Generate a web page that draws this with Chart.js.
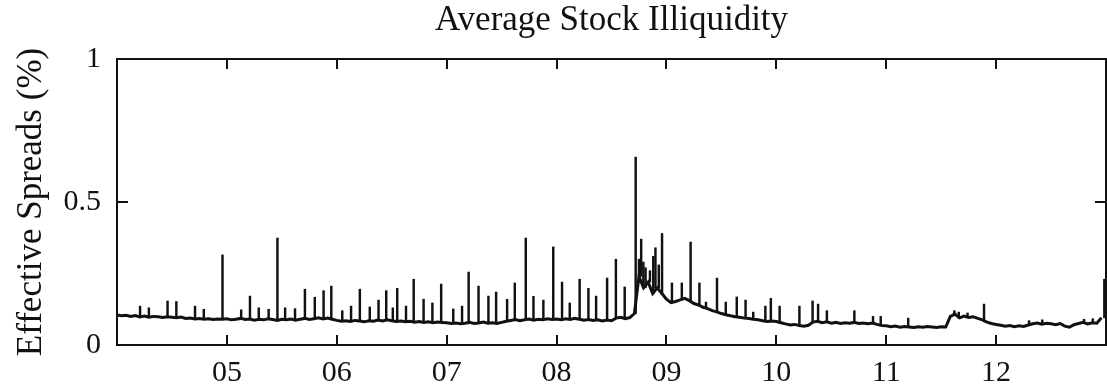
<!DOCTYPE html>
<html>
<head>
<meta charset="utf-8">
<title>Average Stock Illiquidity</title>
<script src="https://cdn.jsdelivr.net/npm/chart.js@4.4.1/dist/chart.umd.min.js"></script>
<style>
html,body{margin:0;padding:0;background:#fff;}
#wrap{width:1107px;height:390px;}
</style>
</head>
<body>
<div id="wrap"><canvas id="spreadChart" width="1107" height="390"></canvas></div>
<script>
// half-monthly level of the average effective spread (%), Jan 2004 .. Dec 2012
const firstYear = 2004;
const stepsPerYear = 24;
const baseline = [
  // 2004
  0.105,0.102,0.104,0.100,0.103,0.098,0.101,0.097,0.100,0.099,0.096,0.099,0.097,0.095,0.098,0.093,0.094,0.091,0.093,0.090,0.092,0.089,0.091,0.090,
  // 2005
  0.092,0.088,0.090,0.093,0.089,0.091,0.087,0.090,0.088,0.092,0.089,0.086,0.090,0.088,0.091,0.087,0.090,0.093,0.089,0.092,0.095,0.091,0.094,0.090,
  // 2006
  0.086,0.083,0.085,0.082,0.086,0.084,0.081,0.085,0.083,0.087,0.084,0.088,0.085,0.082,0.084,0.081,0.083,0.080,0.082,0.079,0.081,0.078,0.080,0.079,
  // 2007
  0.078,0.075,0.077,0.074,0.076,0.079,0.075,0.077,0.080,0.076,0.078,0.075,0.079,0.083,0.086,0.089,0.085,0.088,0.091,0.087,0.090,0.088,0.092,0.089,
  // 2008
  0.091,0.088,0.092,0.089,0.093,0.090,0.087,0.089,0.086,0.088,0.084,0.087,0.085,0.094,0.097,0.092,0.096,0.110,0.240,0.200,0.220,0.180,0.200,0.180,
  // 2009
  0.160,0.148,0.152,0.158,0.163,0.155,0.145,0.140,0.132,0.127,0.120,0.116,0.110,0.106,0.102,0.099,0.097,0.094,0.093,0.090,0.088,0.085,0.082,0.084,
  // 2010
  0.082,0.078,0.074,0.070,0.072,0.068,0.066,0.069,0.080,0.083,0.078,0.081,0.076,0.079,0.075,0.078,0.076,0.079,0.075,0.077,0.074,0.077,0.072,0.068,
  // 2011
  0.067,0.064,0.066,0.062,0.065,0.063,0.061,0.064,0.062,0.065,0.063,0.061,0.064,0.063,0.100,0.108,0.095,0.101,0.096,0.099,0.093,0.088,0.080,0.075,
  // 2012
  0.072,0.069,0.066,0.068,0.064,0.067,0.065,0.070,0.074,0.077,0.073,0.076,0.074,0.071,0.075,0.066,0.062,0.071,0.075,0.079,0.074,0.078,0.076,0.095
];

// single-day jumps in the spread
const spikeDates = [
  2004.21,2004.29,2004.46,2004.54,2004.71,2004.79,2004.96,
  2005.13,2005.21,2005.29,2005.38,2005.46,2005.53,2005.62,2005.71,2005.80,2005.88,2005.95,
  2006.05,2006.13,2006.21,2006.30,2006.38,2006.45,2006.51,2006.55,2006.63,2006.70,2006.79,2006.87,2006.95,
  2007.06,2007.14,2007.20,2007.29,2007.38,2007.45,2007.55,2007.62,2007.72,2007.79,2007.88,2007.97,
  2008.05,2008.12,2008.21,2008.29,2008.36,2008.46,2008.54,2008.62,2008.72,
  2008.75,2008.77,2008.79,2008.81,2008.85,2008.88,2008.90,2008.93,2008.96,
  2009.05,2009.14,2009.22,2009.30,2009.36,2009.46,2009.54,2009.64,2009.72,2009.79,2009.90,2009.95,
  2010.03,2010.21,2010.33,2010.38,2010.46,2010.71,2010.88,2010.95,
  2011.20,2011.62,2011.66,2011.74,2011.89,
  2012.30,2012.42,2012.80,2012.88,2012.985
];
const spikeValues = [
  0.136,0.130,0.154,0.152,0.136,0.125,0.315,
  0.123,0.171,0.130,0.125,0.374,0.130,0.127,0.195,0.167,0.190,0.206,
  0.120,0.136,0.195,0.133,0.157,0.190,0.130,0.198,0.136,0.230,0.160,0.147,0.213,
  0.126,0.136,0.255,0.206,0.171,0.185,0.160,0.217,0.374,0.170,0.157,0.343,
  0.220,0.147,0.230,0.198,0.171,0.234,0.300,0.203,0.657,
  0.300,0.370,0.290,0.270,0.260,0.310,0.340,0.280,0.390,
  0.217,0.217,0.360,0.217,0.150,0.234,0.150,0.168,0.157,0.115,0.136,0.163,
  0.136,0.136,0.154,0.143,0.120,0.120,0.100,0.100,
  0.094,0.120,0.115,0.112,0.143,
  0.085,0.088,0.090,0.092,0.230
];

const yearTicks = [2005,2006,2007,2008,2009,2010,2011,2012];
const yearLabels = ['05','06','07','08','09','10','11','12'];
const valueTicks = [0,0.5,1];

const levelPoints = baseline.map((v,i)=>({x:firstYear + i/stepsPerYear, y:v}));
// each jump rises from the surrounding level up to its peak
function levelAt(t){
  const i = Math.min(baseline.length-1, Math.round((t-firstYear)*stepsPerYear));
  return baseline[i];
}
const spikeBars = spikeDates.map((d,i)=>({x:d, y:[levelAt(d), spikeValues[i]]}));

const serif = "'Liberation Serif','Times New Roman',serif";
const ink = '#111';

// box round the plot with inward tick marks on all four sides
const framePlugin = {
  id:'frame',
  afterDatasetsDraw(chart){
    const {ctx, chartArea:a, scales:{x,y}} = chart;
    ctx.save();
    ctx.strokeStyle = ink; ctx.lineWidth = 2;
    ctx.strokeRect(a.left, a.top, a.right-a.left, a.bottom-a.top);
    ctx.beginPath();
    yearTicks.forEach(t=>{
      const px = Math.round(x.getPixelForValue(t));
      ctx.moveTo(px,a.bottom); ctx.lineTo(px,a.bottom-10);
      ctx.moveTo(px,a.top); ctx.lineTo(px,a.top+10);
    });
    const py = Math.round(y.getPixelForValue(0.5));
    ctx.moveTo(a.left,py); ctx.lineTo(a.left+11,py);
    ctx.moveTo(a.right,py); ctx.lineTo(a.right-11,py);
    ctx.stroke();
    ctx.restore();
  }
};

new Chart(document.getElementById('spreadChart'), {
  type:'line',
  data:{datasets:[
    {
      type:'bar',
      data:spikeBars,
      backgroundColor:ink,
      borderWidth:0,
      barThickness:1.8,
      order:2
    },
    {
      type:'line',
      data:levelPoints,
      borderColor:ink,
      borderWidth:3,
      pointRadius:0,
      tension:0,
      fill:false,
      order:1
    }
  ]},
  options:{
    responsive:false,
    animation:false,
    layout:{padding:{left:0,right:1,top:0,bottom:0}},
    plugins:{
      legend:{display:false},
      tooltip:{enabled:false},
      title:{
        display:true,
        fullSize:false,
        text:'Average Stock Illiquidity',
        color:ink,
        font:{family:serif,size:35,weight:'normal'},
        padding:{top:0,bottom:17}
      }
    },
    scales:{
      x:{
        type:'linear',
        min:2004, max:2013,
        offset:false,
        grid:{display:false, drawTicks:false, offset:false},
        border:{display:false},
        afterBuildTicks:s=>{ s.ticks = yearTicks.map(v=>({value:v})); },
        afterFit:s=>{ s.height = 45; },
        ticks:{
          color:ink, padding:10, maxRotation:0, autoSkip:false,
          font:{family:serif,size:30},
          callback:v=>yearLabels[yearTicks.indexOf(v)]
        }
      },
      y:{
        min:0, max:1,
        grid:{display:false, drawTicks:false},
        border:{display:false},
        afterBuildTicks:s=>{ s.ticks = valueTicks.map(v=>({value:v})); },
        afterFit:s=>{ s.width = 117; },
        ticks:{color:ink, padding:16, font:{family:serif,size:30}, callback:v=>String(v)},
        title:{
          display:true,
          text:'Effective Spreads (%)',
          color:ink,
          font:{family:serif,size:35},
          padding:{top:11,bottom:0}
        }
      }
    }
  },
  plugins:[framePlugin]
});
</script>
</body>
</html>
